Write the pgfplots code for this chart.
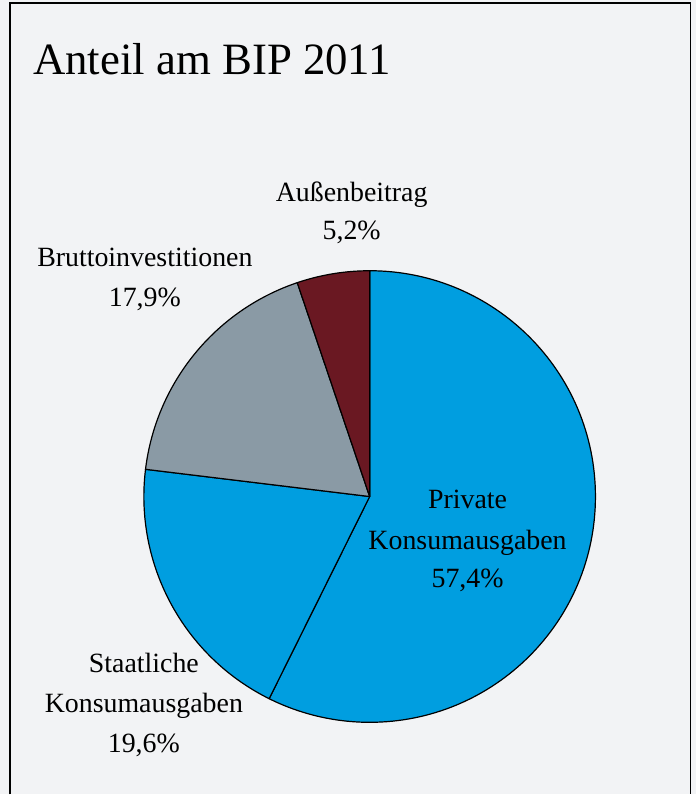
\documentclass[border=0pt]{standalone}
\usepackage{pgfplots}
\pgfplotsset{compat=1.18}
\usepackage{fontspec}
\setmainfont{Liberation Serif}
\definecolor{bg}{HTML}{F2F3F5}
\definecolor{pblue}{HTML}{009EE0}
\definecolor{pgray}{HTML}{8A9AA5}
\definecolor{pred}{HTML}{6A1822}
\tikzset{lbl/.style={anchor=base, inner sep=0pt, font=\fontsize{28}{40}\selectfont}}
% Anteil am BIP 2011, shares in percent (sum 100.1 due to rounding)
\def\pietotal{100.1}
\begin{document}
\begin{tikzpicture}
\begin{axis}[
  width=697bp, height=795bp, scale only axis,
  xmin=0, xmax=697, ymin=0, ymax=795,
  hide axis, clip=false,
]
\fill[bg] (axis cs:0,0) rectangle (axis cs:697,795);
\draw[line width=1.5bp] (axis cs:10,0) -- (axis cs:10,792) -- (axis cs:691,792) -- (axis cs:691,0);
\pgfplotsextra{
\foreach \v/\c [remember=\e as \s (initially 90)] in {57.4/pblue,19.6/pblue,17.9/pgray,5.2/pred}{
  \pgfmathsetmacro\e{\s-(360/\pietotal)*\v}
  \filldraw[fill=\c, draw=black, line width=1.2bp, line join=round]
    (axis cs:370,298) -- ++(\s:226bp) arc[start angle=\s, end angle=\e, radius=226bp] -- cycle;
}}
\node[anchor=base west, inner sep=0pt, font=\fontsize{45}{54}\selectfont] at (axis cs:33,720) {Anteil am BIP 2011};
% labels
\node[lbl] at (axis cs:468,286) {Private};
\node[lbl] at (axis cs:468,245) {Konsumausgaben};
\node[lbl] at (axis cs:468,207) {57,4\%};
\node[lbl] at (axis cs:144,122) {Staatliche};
\node[lbl] at (axis cs:144,82) {Konsumausgaben};
\node[lbl] at (axis cs:144,42) {19,6\%};
\node[lbl] at (axis cs:145,528) {Bruttoinvestitionen};
\node[lbl] at (axis cs:145,488) {17,9\%};
\node[lbl] at (axis cs:352,593) {Außenbeitrag};
\node[lbl] at (axis cs:352,555) {5,2\%};
\end{axis}
\end{tikzpicture}
\end{document}
